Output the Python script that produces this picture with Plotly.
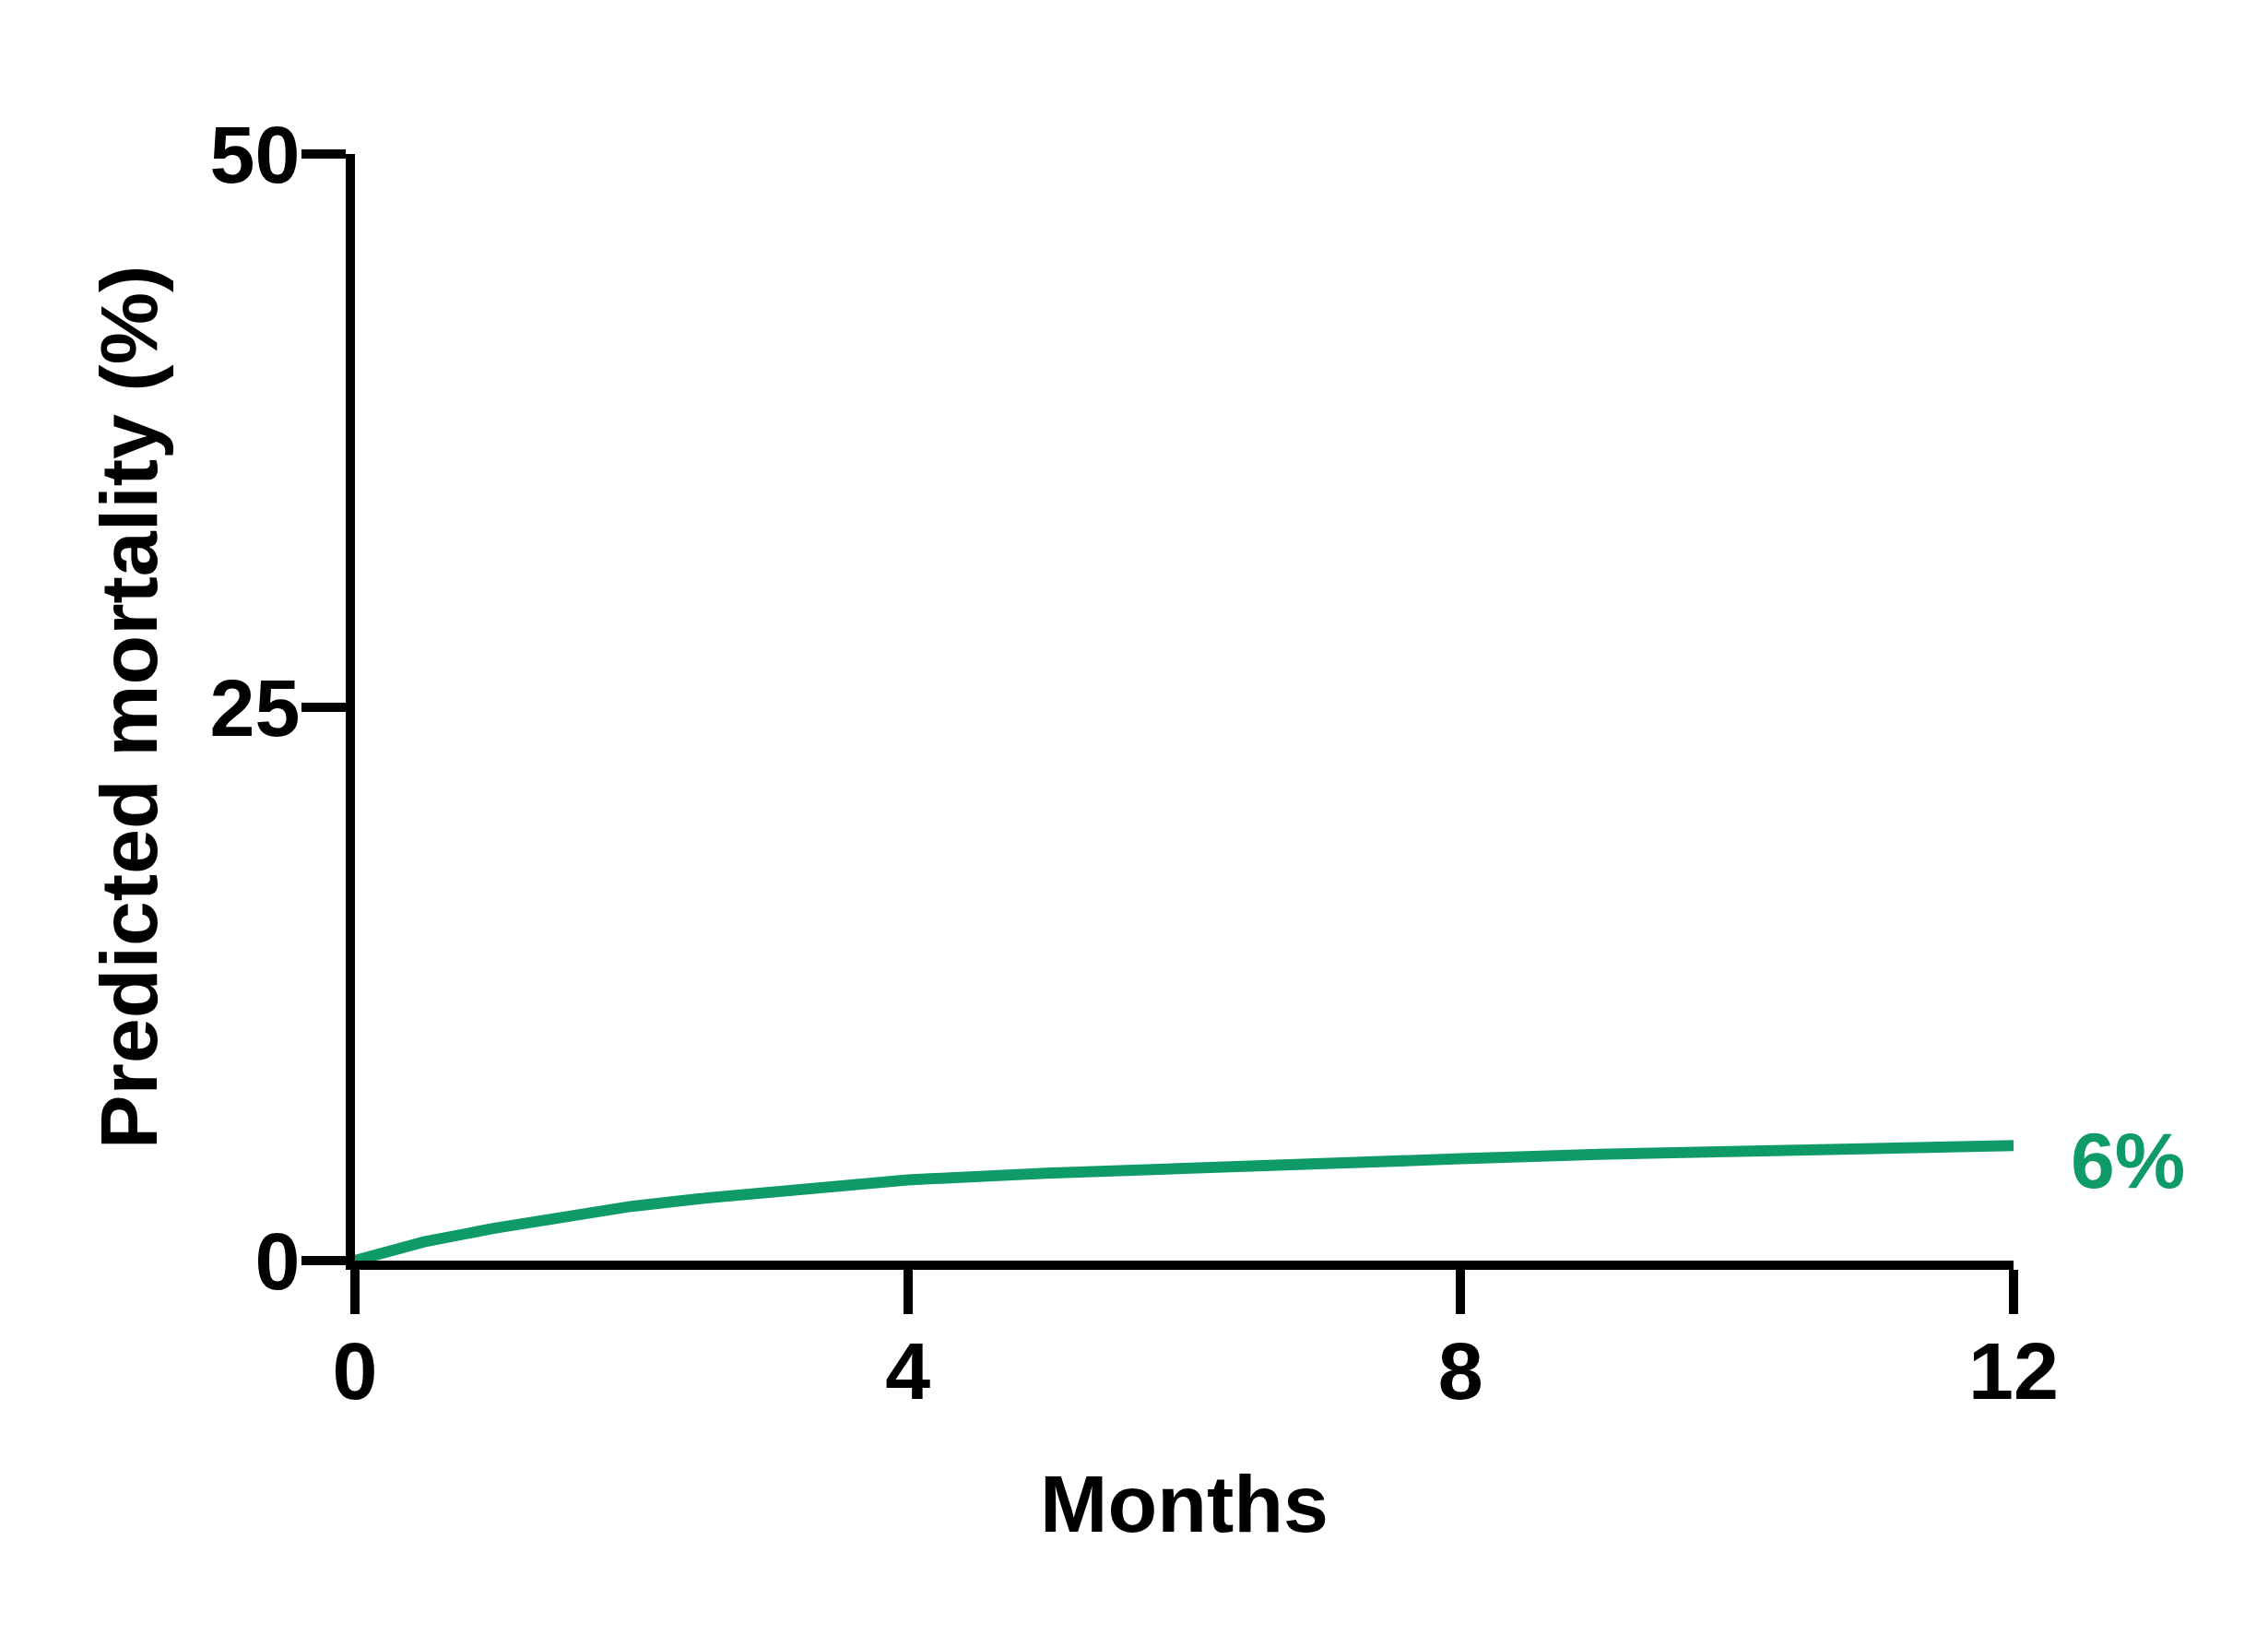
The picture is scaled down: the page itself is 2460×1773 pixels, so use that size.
import plotly.graph_objects as go

# Predicted mortality curve
months = [0, 0.25, 0.5, 1, 1.5, 2, 2.5, 3, 3.5, 4, 5, 6, 7, 8, 9, 10, 11, 12]
mortality = [0, 0.45, 0.85, 1.45, 1.95, 2.45, 2.8, 3.1, 3.4, 3.65, 3.95, 4.2, 4.4, 4.6, 4.8, 4.95, 5.05, 5.2]
end_label = "6%"

x_ticks = [0, 4, 8, 12]
y_ticks = [0, 25, 50]

GREEN = "#0f9b68"
FONT = "Liberation Sans, Arial, sans-serif"

fig = go.Figure(go.Scatter(
    x=months,
    y=mortality,
    mode="lines",
    line=dict(color=GREEN, width=12),
    showlegend=False,
    hoverinfo="skip",
))

# end-of-curve label
fig.add_annotation(
    x=months[-1], y=mortality[-1],
    text=end_label,
    showarrow=False,
    xanchor="left", yanchor="middle",
    xshift=60, yshift=-16,
    font=dict(family=FONT, size=86, color=GREEN, weight="bold"),
)

axis_common = dict(
    showline=True,
    linecolor="black",
    linewidth=10,
    ticks="outside",
    ticklen=48,
    tickwidth=10,
    tickcolor="black",
    showgrid=False,
    zeroline=False,
    tickfont=dict(family=FONT, size=88, color="black", weight="bold"),
)

fig.update_xaxes(
    range=[0, 12],
    tickvals=x_ticks,
    ticklabelstandoff=-14,
    title=dict(text="Months", standoff=69,
               font=dict(family=FONT, size=88, color="black", weight="bold")),
    **axis_common,
)
fig.update_yaxes(
    range=[0, 50],
    tickvals=y_ticks,
    ticklabelstandoff=-16,
    title=dict(text="Predicted mortality (%)", standoff=32,
               font=dict(family=FONT, size=88, color="black", weight="bold")),
    **axis_common,
)

fig.update_layout(
    width=2460,
    height=1773,
    margin=dict(l=377, r=284, t=159, b=414, autoexpand=False),
    plot_bgcolor="white",
    paper_bgcolor="white",
)

fig.write_html("out.html")
